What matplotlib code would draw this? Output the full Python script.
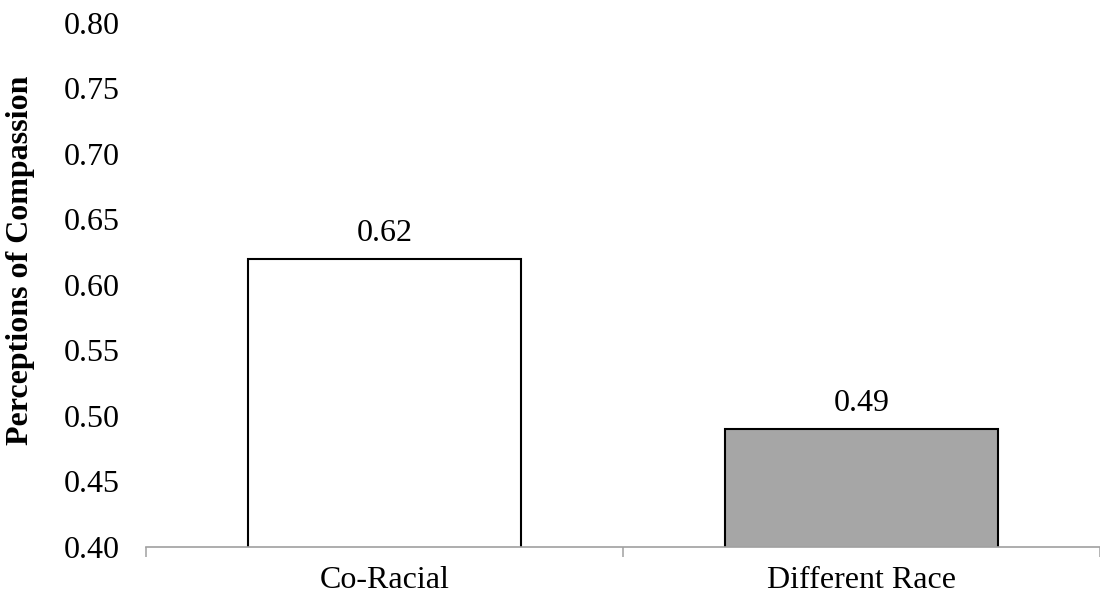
import matplotlib.pyplot as plt

categories = ["Co-Racial", "Different Race"]
values = [0.62, 0.49]
bar_colors = ["white", "#a6a6a6"]
y_ticks = [0.40, 0.45, 0.50, 0.55, 0.60, 0.65, 0.70, 0.75, 0.80]

plt.rcParams['font.family'] = ['Liberation Serif', 'DejaVu Serif']

fig = plt.figure(figsize=(11, 6.03), dpi=100)
ax = fig.add_axes([0.1327, 0.0929, 0.8673, 0.869])

x = range(len(categories))
bars = ax.bar(x, values, width=0.574, color=bar_colors, edgecolor="black",
              linewidth=1.5, zorder=2)

# value labels above each bar
for b, v in zip(bars, values):
    ax.annotate(f"{v:.2f}", (b.get_x() + b.get_width() / 2, v),
                xytext=(0, 13), textcoords="offset points",
                ha="center", va="baseline", fontsize=23)

ax.set_ylim(0.40, 0.80)
ax.set_xlim(-0.5, 1.5)
ax.set_yticks(y_ticks)
ax.set_yticklabels([f"{t:.2f}" for t in y_ticks], fontsize=23)
ax.set_xticks(list(x))
ax.set_xticklabels(categories, fontsize=23)

# category boundary ticks on the x axis
ax.set_xticks([-0.5, 0.5, 1.5], minor=True)
ax.tick_params(axis="x", which="major", length=0, pad=14)
ax.tick_params(axis="x", which="minor", length=7, color="#a8a8a8", width=1.2)
ax.tick_params(axis="y", length=0, pad=19)

for side in ["left", "right", "top"]:
    ax.spines[side].set_visible(False)
ax.spines["bottom"].set_color("#a0a0a0")
ax.spines["bottom"].set_linewidth(1.2)

fig.text(21 / 1100, 1 - 260 / 603, "Perceptions of Compassion", rotation=90,
         ha="center", va="center", fontsize=23, fontweight="bold")

fig.savefig("out.png", dpi=100)
